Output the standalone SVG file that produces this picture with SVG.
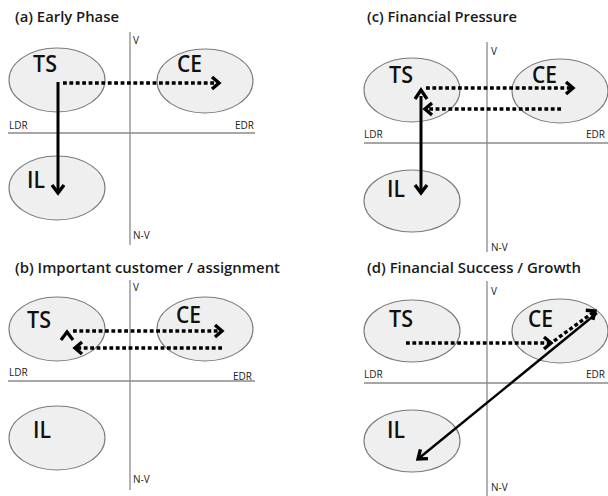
<svg xmlns="http://www.w3.org/2000/svg" width="608" height="496" viewBox="0 0 608 496">
<style>
text{font-family:"Open Sans","Liberation Sans",sans-serif;fill:#111}
.title{font-size:13.5px;font-weight:600;fill:#1a1a1a}
.ax{font-size:10px;fill:#222}
.big{font-size:24px;font-weight:600}
.node{fill:#efefef;stroke:#7a7a7a;stroke-width:1.1}
.axis{stroke:#8a8a8a;stroke-width:1.3;fill:none}
.dot{stroke:#000;stroke-width:3.4;stroke-dasharray:3.8 2.6;fill:none}
.sol{stroke:#000;stroke-width:3;fill:none}
.sol2{stroke:#000;stroke-width:2.4;fill:none}
.chev{stroke:#000;stroke-width:3.2;fill:none;stroke-linejoin:miter}
</style>
<defs>
<marker id="ah" markerUnits="userSpaceOnUse" viewBox="-12 -9 15 18" refX="0" refY="0" markerWidth="15" markerHeight="18" orient="auto">
<path d="M-7,-6 L0,0 L-7,6" stroke="#000" stroke-width="3.4" fill="none"/>
</marker>
<marker id="ahs" markerUnits="userSpaceOnUse" viewBox="-12 -9 15 18" refX="0" refY="0" markerWidth="15" markerHeight="18" orient="auto">
<path d="M-8,-6 L0,0 L-8,6" stroke="#000" stroke-width="3.4" fill="none"/>
</marker>
</defs>

<!-- Titles -->
<text class="title" x="15" y="22" textLength="104" lengthAdjust="spacingAndGlyphs">(a) Early Phase</text>
<text class="title" x="367" y="22" textLength="150" lengthAdjust="spacingAndGlyphs">(c) Financial Pressure</text>
<text class="title" x="15" y="273" textLength="265" lengthAdjust="spacingAndGlyphs">(b) Important customer / assignment</text>
<text class="title" x="367" y="273" textLength="214" lengthAdjust="spacingAndGlyphs">(d) Financial Success / Growth</text>

<!-- Axes -->
<g id="axes">
<line class="axis" x1="130" y1="32" x2="130" y2="245"/>
<line class="axis" x1="8" y1="133" x2="255" y2="133"/>
<line class="axis" x1="487" y1="42" x2="487" y2="252"/>
<line class="axis" x1="364" y1="143" x2="608" y2="143"/>
<line class="axis" x1="130" y1="280" x2="130" y2="490"/>
<line class="axis" x1="8" y1="381" x2="255" y2="381"/>
<line class="axis" x1="487" y1="281" x2="487" y2="496"/>
<line class="axis" x1="364" y1="383" x2="608" y2="383"/>
<text class="ax" x="133" y="44">V</text>
<text class="ax" x="9" y="129">LDR</text>
<text class="ax" x="235" y="129">EDR</text>
<text class="ax" x="133" y="239">N-V</text>
<text class="ax" x="491" y="55">V</text>
<text class="ax" x="364" y="138">LDR</text>
<text class="ax" x="586" y="138">EDR</text>
<text class="ax" x="491" y="251">N-V</text>
<text class="ax" x="133" y="291">V</text>
<text class="ax" x="9" y="376">LDR</text>
<text class="ax" x="233" y="380">EDR</text>
<text class="ax" x="133" y="483">N-V</text>
<text class="ax" x="491" y="295">V</text>
<text class="ax" x="364" y="378">LDR</text>
<text class="ax" x="586" y="378">EDR</text>
<text class="ax" x="491" y="491">N-V</text>
</g>

<!-- Panel (a) nodes -->
<g id="a-TS"><ellipse class="node" cx="57" cy="80" rx="48" ry="32"/><text class="big" x="33" y="72" textLength="24" lengthAdjust="spacingAndGlyphs">TS</text></g>
<g id="a-CE"><ellipse class="node" cx="205" cy="81" rx="48" ry="32"/><text class="big" x="177" y="72" textLength="25" lengthAdjust="spacingAndGlyphs">CE</text></g>
<g id="a-IL"><ellipse class="node" cx="57" cy="188" rx="48" ry="32"/><text class="big" x="27" y="188" textLength="18" lengthAdjust="spacingAndGlyphs">IL</text></g>

<!-- Panel (c) nodes -->
<g id="c-TS"><ellipse class="node" cx="412" cy="90" rx="48" ry="32"/><text class="big" x="389" y="83" textLength="24" lengthAdjust="spacingAndGlyphs">TS</text></g>
<g id="c-CE"><ellipse class="node" cx="560" cy="91" rx="48" ry="32"/><text class="big" x="532" y="83" textLength="25" lengthAdjust="spacingAndGlyphs">CE</text></g>
<g id="c-IL"><ellipse class="node" cx="412" cy="201" rx="48" ry="31"/><text class="big" x="387" y="197" textLength="18" lengthAdjust="spacingAndGlyphs">IL</text></g>

<!-- Panel (b) nodes -->
<g id="b-TS"><ellipse class="node" cx="57" cy="329" rx="48" ry="32"/><text class="big" x="27" y="328" textLength="24" lengthAdjust="spacingAndGlyphs">TS</text></g>
<g id="b-CE"><ellipse class="node" cx="205" cy="329" rx="48" ry="32"/><text class="big" x="176" y="323" textLength="25" lengthAdjust="spacingAndGlyphs">CE</text></g>
<g id="b-IL"><ellipse class="node" cx="57" cy="438" rx="48" ry="32"/><text class="big" x="33" y="438" textLength="18" lengthAdjust="spacingAndGlyphs">IL</text></g>

<!-- Panel (d) nodes -->
<g id="d-TS"><ellipse class="node" cx="412" cy="331" rx="48" ry="31"/><text class="big" x="389" y="327" textLength="24" lengthAdjust="spacingAndGlyphs">TS</text></g>
<g id="d-CE"><ellipse class="node" cx="560" cy="331" rx="48" ry="32"/><text class="big" x="528" y="327" textLength="25" lengthAdjust="spacingAndGlyphs">CE</text></g>
<g id="d-IL"><ellipse class="node" cx="412" cy="441" rx="48" ry="31"/><text class="big" x="387" y="438" textLength="18" lengthAdjust="spacingAndGlyphs">IL</text></g>

<!-- Connectors -->
<g id="connectors">
<!-- (a) -->
<path class="dot" d="M63,83 L219,83" marker-end="url(#ah)"/>
<path class="sol" d="M58,82 L58,193" marker-end="url(#ahs)"/>
<!-- (c) -->
<path class="dot" d="M426,88 L573,88" marker-end="url(#ah)"/>
<path class="dot" d="M561,109 L425,109" marker-end="url(#ah)"/>
<path class="sol" d="M421,96 L421,193" marker-end="url(#ahs)"/>
<path class="chev" d="M415,99 L421,90 L427,99"/>
<!-- (b) -->
<path class="dot" d="M73,331 L222,331" marker-end="url(#ah)"/>
<path class="dot" d="M222,348 L75,348" marker-end="url(#ah)"/>
<path class="chev" d="M61,340 L67,332 L73,340"/>
<!-- (d) -->
<path class="dot" d="M406,343 L551,343" marker-end="url(#ah)"/>
<path class="dot" d="M554,341 L595,311" marker-end="url(#ah)"/>
<path class="sol2" d="M597,313 L418,459" marker-end="url(#ahs)"/>
</g>
</svg>
